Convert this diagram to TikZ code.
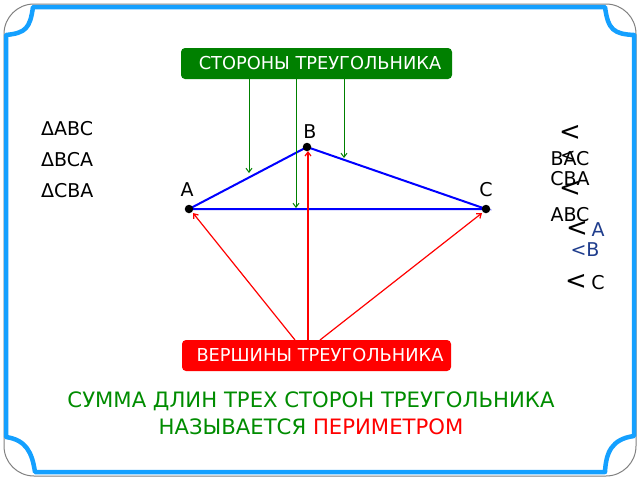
\documentclass[tikz,border=0pt]{standalone}
\usepackage{fontspec}
\setmainfont{DejaVu Sans}
\usetikzlibrary{arrows.meta}
\definecolor{frameblue}{RGB}{20,160,255}
\definecolor{boxgreen}{RGB}{0,128,0}
\definecolor{txtgreen}{RGB}{0,140,0}
\definecolor{navy}{RGB}{30,60,140}
\tikzset{
  lbl/.style={inner sep=0pt, font=\fontsize{19}{21}\selectfont},
  boxlbl/.style={rounded corners=4pt, inner sep=0pt, text=white, font=\fontsize{17.8}{20}\selectfont},
  side/.style={blue, line width=2pt},
  dot/.style={circle, fill=black, inner sep=0pt, minimum size=8.5pt},
  garrow/.style={boxgreen, line width=1pt, -{Straight Barb[length=4pt,width=6pt]}},
  rarrow/.style={red, line width=1.2pt, -{Straight Barb[length=4pt,width=6pt]}},
  lt/.style={inner sep=0pt, font=\fontsize{26}{28}\selectfont},
  sumtxt/.style={inner sep=0pt, font=\fontsize{21.2}{24}\selectfont, text=txtgreen}
}
\begin{document}
\begin{tikzpicture}[x=1pt,y=-1pt]
\useasboundingbox (0,0) rectangle (640,480);
% frame
\draw[gray, line width=1pt, rounded corners=30pt] (4,4) rectangle (636,476);
\draw[frameblue, line width=4.5pt, line join=round]
  (33,7) -- (605,7) .. controls (608,30) and (614,34) .. (634,35)
  -- (634,436) .. controls (612,439) and (606,452) .. (605,472)
  -- (35,472) .. controls (32,452) and (26,440) .. (6,437)
  -- (6,35) .. controls (26,33) and (30,28) .. (33,7) -- cycle;
% boxes
\node[boxlbl, fill=boxgreen, minimum width=271pt, minimum height=31pt] (sides) at (316.5,63.5) {\hspace*{7pt}СТОРОНЫ ТРЕУГОЛЬНИКА};
\node[boxlbl, fill=red, minimum width=269pt, minimum height=31pt] (verts) at (316.5,355.5) {\hspace*{7pt}ВЕРШИНЫ ТРЕУГОЛЬНИКА};
% triangle
\coordinate (A) at (189,209);
\coordinate (B) at (307,147);
\coordinate (C) at (486,209);
\draw[side] (A) -- (B) -- (C) -- cycle;
\node[dot] (dA) at (A) {};
\node[dot] (dB) at (B) {};
\node[dot] (dC) at (C) {};
\node[lbl] (lA) at (187,190) {A};
\node[lbl] (lB) at (310,132) {B};
\node[lbl] (lC) at (486,190) {C};
% green arrows
\coordinate (g1) at (249,173);
\coordinate (g2) at (296,208);
\coordinate (g3) at (344,158);
\draw[garrow] (sides.south -| g1) -- (g1);
\draw[garrow] (sides.south -| g2) -- (g2);
\draw[garrow] (sides.south -| g3) -- (g3);
% red arrows
\coordinate (r1) at (295,340);
\coordinate (r2) at (308,340);
\coordinate (r3) at (320,340);
\draw[rarrow] (r1) -- (193,213);
\draw[rarrow] (r2) -- (308,151);
\draw[rarrow] (r3) -- (482,213);
% left labels
\node[lbl, anchor=west] (t1) at (41,129) {ΔABC};
\node[lbl, anchor=west] (t2) at (41,160) {ΔBCA};
\node[lbl, anchor=west] (t3) at (41,191) {ΔCBA};
% right jumble
\node[lt] (s1) at (570,133) {<};
\node[lbl] (bac) at (570,159) {BAC};
\node[lbl, font=\fontsize{18}{20}\selectfont] (s2) at (568,156) {<};
\node[lbl] (cba) at (570,179) {CBA};
\node[lt] (s3) at (570,189) {<};
\node[lbl] (abc) at (570,215) {ABC};
\node[lt] (s4) at (577,229) {<};
\node[lbl, text=navy] (na) at (598,230) {A};
\node[lbl, text=navy] (nb) at (585,250) {<B};
\node[lt] (s5) at (576,282) {<};
\node[lbl] (nc) at (598,283) {C};
% bottom text
\node[sumtxt] (sum1) at (311,401) {СУММА ДЛИН ТРЕХ СТОРОН ТРЕУГОЛЬНИКА};
\node[sumtxt] (sum2) at (311,427) {НАЗЫВАЕТСЯ \textcolor{red}{ПЕРИМЕТРОМ}};
\end{tikzpicture}
\end{document}
